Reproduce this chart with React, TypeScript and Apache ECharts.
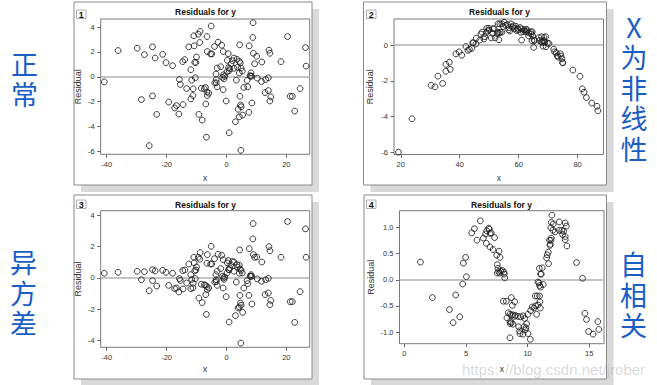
import React, { useEffect, useRef } from "react";
import * as echarts from "echarts";

// Panel 1 & 3 share the predictor x
const xA = [-40.8,-36.2,-29.8,-27.4,-24.7,-23.8,-21.3,-20.2,-18.0,-14.6,-13.9,-28.4,-24.7,-23.3,-25.8,-19.3,-17.3,-16.7,-15.9,-15.7,-15.4,-14.5,-13.3,-12.6,-11.9,-11.6,-11.1,-11.2,-11.9,-10.9,-10.6,-10.2,-10.0,-10.4,-10.8,-9.4,-8.8,-8.9,-8.4,-7.4,-7.0,-6.5,-6.4,-5.9,-6.9,-8.1,-9.2,-6.7,-6.5,-5.1,-6.4,-5.3,-4.9,-4.0,-2.8,-1.6,-3.1,-3.5,-3.4,-3.4,-3.1,-1.1,-1.0,-0.8,-0.6,-1.1,-0.1,0.6,0.3,0.9,1.1,0.2,1.5,2.0,2.5,3.5,3.3,2.5,4.4,4.3,4.6,4.9,5.3,4.5,4.7,4.9,4.3,5.4,3.0,0.9,4.8,3.9,5.8,6.9,7.1,7.6,7.5,7.9,8.2,8.4,8.1,8.8,9.0,9.4,10.1,8.9,8.5,10.3,11.8,11.7,13.1,14.0,12.9,14.0,14.2,14.5,14.8,14.5,18.2,20.4,21.3,22.0,22.8,24.6,26.4,26.6,-1.9,-1.3,0.7,3.7,4.3,-3.9];
// Panel 1: normal residuals
const resA = [-0.41,2.11,2.30,1.78,2.41,1.51,1.81,1.14,0.89,1.22,1.38,-1.84,-1.54,-3.03,-5.54,-2.03,-2.51,-2.32,-3.0,-0.22,-0.62,-2.24,-0.95,2.41,0.57,-0.27,-0.97,-1.51,-1.78,3.30,1.16,1.14,1.59,-0.08,2.49,3.43,3.65,2.76,-0.92,-0.97,-0.86,-1.22,-1.51,-1.32,-2.19,-3.49,-3.03,-4.86,3.24,4.08,2.03,1.84,1.84,2.43,2.78,2.54,0.70,0.22,-0.22,-0.49,-0.81,2.03,0.16,-0.16,0.05,-1.03,-1.95,1.86,1.32,0.49,0.65,0.41,1.03,1.30,1.51,1.41,-0.27,0.68,2.57,1.24,1.11,0.70,0.46,-1.57,-2.27,-2.41,-3.22,-3.08,-3.62,-4.51,-5.92,-2.62,-0.86,-0.30,-0.81,2.49,-2.86,0.08,0.32,0.05,0.05,3.16,1.89,1.05,1.65,4.35,-2.11,-0.11,1.19,-0.38,-0.22,-0.08,-1.27,-1.11,2.14,1.89,-1.62,-1.95,1.22,3.24,-1.57,-1.57,-2.76,-0.95,2.35,0.86,0.81,-0.05,0.73,0.76,0.30,-0.49];
// Panel 3: heteroscedastic residuals
const resC = [0.30,0.36,0.43,0.40,0.53,0.45,0.49,0.36,0.30,0.47,0.51,-0.11,-0.17,-0.51,-0.81,-0.47,-0.68,-0.64,-0.89,-0.04,-0.15,-0.70,-0.32,0.89,0.21,-0.09,-0.34,-0.62,-0.68,1.32,0.45,0.51,0.70,-0.04,0.96,1.32,1.62,1.19,-0.40,-0.43,-0.47,-0.55,-0.74,-0.64,-1.06,-1.57,-1.28,-2.32,0.94,2.02,1.49,0.89,0.89,1.23,1.51,1.45,0.43,0.21,-0.11,-0.23,-0.47,1.17,0,-0.09,0.06,-0.64,-1.19,1.11,0.96,0.53,0.64,0.32,0.85,1.06,1.02,0.85,-0.26,0.43,1.79,0.81,0.57,0.49,0.32,-1.11,-1.60,-1.74,-1.85,-2.19,-2.40,-2.81,-4.15,-1.91,-0.64,-0.17,-0.36,1.87,-1.11,0.11,0.21,0.11,0.11,2.49,1.49,1.32,1.34,3.47,-1.66,-0.06,1.02,-0.21,-0.11,-0.02,-1.06,-0.96,2.0,1.74,-1.43,-1.70,1.32,3.60,-1.51,-1.51,-2.83,-0.87,3.13,1.32,0.60,0.11,0.53,0.68,0.30,-0.26];
// Panel 2: nonlinear in x
const xB = [19.2,23.8,30.3,31.6,32.6,34.2,35.3,35.3,36.5,36.8,38.7,39.8,40.7,42.1,42.8,43.3,44.1,44.4,44.7,45.6,45.5,46.8,47.2,48.2,48.5,49.0,49.2,49.5,50.0,50.7,51.2,51.3,51.7,52.0,52.7,52.9,53.3,53.4,53.6,53.8,54.3,55.1,54.8,56.2,56.6,57.0,57.4,58.2,58.6,59.0,59.3,59.8,60.5,60.7,61.0,61.0,61.8,62.2,62.8,63.4,63.5,64.2,64.3,64.5,64.8,65.1,65.2,65.4,67.0,67.8,68.0,68.3,68.4,68.6,68.9,69.2,69.3,69.8,70.3,71.9,72.2,73.1,73.4,74.2,74.4,74.7,75.0,74.9,78.4,80.8,81.6,82.2,83.0,84.8,86.6,86.9,47.6,49.9,53.0,54.3,55.6,56.8,57.9,59.6,61.5,62.5,62.9,64.6,68.6,67.7,66.9,72.8];
const resB = [-6.0,-4.13,-2.26,-2.34,-1.74,-2.15,-1.47,-1.08,-0.96,-1.36,-0.49,-0.38,-0.57,-0.08,-0.30,-0.23,-0.19,0.13,0.13,0.38,0.06,0.28,0.62,0.34,0.47,0.70,0.94,0.79,0.85,0.40,0.66,0.92,0.91,0.40,0.64,0.72,0.30,0.68,1.19,0.72,0.72,1.28,1.04,1.15,0.85,0.79,1.19,1.08,0.92,1.06,0.81,0.85,0.98,0.72,0.28,0.91,0.85,0.77,0.74,0.51,0.68,0.74,0.62,0.25,0.51,-0.13,0.28,0.25,0.25,0.47,0.15,-0.06,0.21,0.25,0.17,0.47,-0.09,0.11,0.09,-0.23,-0.38,-0.60,-0.68,-0.49,-0.62,-0.77,-1.0,-0.98,-1.40,-1.75,-2.45,-2.64,-2.94,-3.25,-3.43,-3.68,0.72,0.94,1.19,1.19,1.11,0.98,1.0,0.94,0.75,0.89,0.85,0.75,0.43,0.19,0.42,-0.43];
// Panel 4: autocorrelated residuals
const xD = [1.30,2.27,3.65,3.95,4.49,4.16,4.78,4.97,5.03,4.73,5.46,5.68,5.89,6.16,6.41,6.59,6.68,6.84,6.89,6.95,7.05,6.65,6.95,7.19,7.32,7.49,7.68,7.76,7.54,7.59,7.65,7.73,7.81,7.95,8.08,8.11,8.14,7.54,8.03,8.27,8.68,8.76,8.95,8.43,8.32,8.57,8.68,8.81,8.95,9.0,9.22,9.43,9.62,9.76,8.57,8.59,8.68,8.81,8.57,9.27,9.35,9.38,9.70,9.86,9.81,10.03,9.92,9.62,10.22,10.03,10.24,10.38,10.51,10.65,10.73,10.84,11.03,11.0,10.62,10.78,10.97,10.84,10.92,10.97,11.05,11.27,10.95,11.19,11.05,11.11,11.70,11.54,11.59,11.68,11.84,11.78,11.89,11.92,11.81,11.97,11.92,12.08,11.89,12.05,12.24,12.57,12.57,12.84,13.05,13.14,12.92,13.05,13.05,13.19,12.78,13.97,14.46,14.65,14.78,14.95,15.32,15.70,15.78];
const resD = [0.34,-0.34,-0.57,-0.82,-0.71,-0.29,0.32,0.43,0.06,-0.08,0.90,0.98,0.76,1.13,0.80,0.88,0.94,0.99,0.97,0.89,0.90,0.70,0.63,0.58,0.81,0.47,0.55,0.43,0.29,0.22,0.16,0.13,0.17,0.18,0.15,0.11,0.04,0.13,-0.41,-0.41,-0.34,-0.49,-0.42,-0.63,-0.73,-0.66,-0.68,-0.67,-0.70,-0.68,-0.70,-0.71,-0.69,-0.74,-0.80,-0.84,-0.82,-0.85,-1.11,-0.90,-0.98,-1.03,-0.90,-0.92,-0.96,-1.03,-0.84,-1.04,-1.14,-0.66,-0.59,-0.52,-0.54,-0.50,-0.66,-0.48,-0.54,-0.42,-0.31,-0.31,-0.31,-0.04,-0.06,-0.11,-0.14,-0.09,0.22,0.23,0.11,0.11,0.31,0.42,0.48,0.53,0.68,0.76,0.76,0.80,0.66,1.24,1.10,1.07,1.0,0.95,0.92,1.11,0.95,0.87,1.09,1.03,0.93,0.83,0.77,0.65,0.95,0.33,0.03,-0.64,-0.76,-0.99,-1.04,-0.80,-0.95];

const ticksA = [-40, -20, 0, 20];
const ticksResA = [-6, -4, -2, 0, 2, 4];
const ticksB = [20, 40, 60, 80];
const ticksResB = [-6, -4, -2, 0];
const ticksResC = [-4, -2, 0, 2, 4];
const ticksD = [0, 5, 10, 15];
const ticksResD = [-1, -0.5, 0, 0.5, 1];

const panelTitle = "Residuals for y";
const sideLabels = ["正常", "X为非线性", "异方差", "自相关"];
const watermark = ["https:", "//blog.csdn.net/jrober"];

const zip = (xs: number[], ys: number[]) => {
  const n = Math.min(xs.length, ys.length);
  const out: number[][] = [];
  for (let i = 0; i < n; i++) out.push([xs[i], ys[i]]);
  return out;
};

const FONT = "'Liberation Sans', Arial, sans-serif";

export default function App() {
  const ref = useRef<HTMLDivElement>(null);
  useEffect(() => {
    document.body.style.margin = "0";
    const chart = echarts.init(ref.current!, null, { renderer: "svg" });

    const panels = [
      { grid: { left: 100.7, top: 19, width: 209, height: 135.3 }, xr: [-42, 27.8], xt: ticksA, yr: [-6.24, 4.65], yt: ticksResA, data: zip(xA, resA), fmt: null as any, xGap: 19, yGap: 18 },
      { grid: { left: 394, top: 19, width: 209.5, height: 135.5 }, xr: [17.7, 88.8], xt: ticksB, yr: [-6.13, 1.46], yt: ticksResB, data: zip(xB, resB), fmt: null, xGap: 19, yGap: 19.5 },
      { grid: { left: 100.7, top: 210.7, width: 209, height: 136.6 }, xr: [-42, 27.8], xt: ticksA, yr: [-4.42, 4.29], yt: ticksResC, data: zip(xA, resC), fmt: null, xGap: 17, yGap: 18 },
      { grid: { left: 399.5, top: 210.7, width: 204.5, height: 133 }, xr: [-0.4, 16.2], xt: ticksD, yr: [-1.224, 1.325], yt: ticksResD, data: zip(xD, resD), fmt: (v: number) => v.toFixed(1), xGap: 20.5, yGap: 24 },
    ];

    const labelStyle = { fontSize: 7.5, color: "#333", fontFamily: FONT };
    const grids = panels.map((p) => ({ ...p.grid, show: true, borderColor: "#7a7a7a", borderWidth: 1, backgroundColor: "transparent", z: 5 }));
    const xAxes = panels.map((p, i) => ({
      type: "value", gridIndex: i, min: p.xr[0], max: p.xr[1], z: 5, position: "bottom",
      name: "x", nameLocation: "middle", nameGap: p.xGap,
      nameTextStyle: { fontSize: 8.5, color: "#333", fontFamily: FONT },
      axisLine: { show: false, onZero: false }, splitLine: { show: false },
      axisTick: { show: true, customValues: p.xt, length: 3.5, lineStyle: { color: "#666", width: 1 } },
      axisLabel: { ...labelStyle, customValues: p.xt, margin: 6 },
    }));
    const yAxes = panels.map((p, i) => ({
      type: "value", gridIndex: i, min: p.yr[0], max: p.yr[1], z: 5, position: "left",
      name: "Residual", nameLocation: "middle", nameGap: p.yGap, nameRotate: 90,
      nameTextStyle: { fontSize: 9, color: "#333", fontFamily: FONT },
      axisLine: { show: false, onZero: false }, splitLine: { show: false },
      axisTick: { show: true, customValues: p.yt, length: 3.5, lineStyle: { color: "#666", width: 1 } },
      axisLabel: { ...labelStyle, customValues: p.yt, margin: 6, ...(p.fmt ? { formatter: p.fmt } : {}) },
    }));
    const series = panels.map((p, i) => ({
      type: "scatter", xAxisIndex: i, yAxisIndex: i, z: 6,
      data: p.data, symbol: "circle", symbolSize: 5.8,
      itemStyle: { color: "rgba(255,255,255,0)", borderColor: "#1a1a1a", borderWidth: 0.85, opacity: 1 },
      markLine: {
        silent: true, symbol: ["none", "none"], label: { show: false },
        lineStyle: { color: "#b0b0b0", width: 1.5, type: "solid" },
        data: [{ yAxis: 0 }], z: 5,
      },
    }));

    const boxes = [
      { x: 74, y: 2, w: 238, h: 183, num: "1", nx: 76.5, ny: 10, tx: 205.5, ty: 11.7 },
      { x: 363.5, y: 2, w: 243, h: 183, num: "2", nx: 366.5, ny: 10, tx: 499.5, ty: 11.7 },
      { x: 74, y: 195, w: 238, h: 184, num: "3", nx: 76.5, ny: 200, tx: 205.5, ty: 205 },
      { x: 364, y: 195, w: 242.5, h: 184, num: "4", nx: 366.5, ny: 200, tx: 501.5, ty: 205 },
    ];
    const graphic: any[] = [];
    boxes.forEach((b) => {
      graphic.push({ type: "rect", z: -20, shape: { x: b.x + 7, y: b.y + 7, width: b.w, height: b.h }, style: { fill: "#d9d9d9" }, silent: true });
      graphic.push({ type: "rect", z: -10, shape: { x: b.x, y: b.y, width: b.w, height: b.h }, style: { fill: "#ffffff", stroke: "#8a8a8a", lineWidth: 1 }, silent: true });
      graphic.push({ type: "rect", z: 10, shape: { x: b.nx, y: b.ny, width: 9.5, height: 8.5 }, style: { fill: "#fff", stroke: "#999", lineWidth: 0.8 }, silent: true });
      graphic.push({ type: "text", z: 11, x: b.nx + 4.75, y: b.ny + 4.5, style: { text: b.num, fontSize: 9, fontWeight: "bold", fontFamily: FONT, fill: "#111", align: "center", verticalAlign: "middle" } });
      graphic.push({ type: "text", z: 11, x: b.tx, y: b.ty, style: { text: panelTitle, fontSize: 8.5, fontWeight: "bold", fontFamily: FONT, fill: "#111", align: "center", verticalAlign: "middle" } });
    });
    const side = [
      { t: sideLabels[0], x: 24.5, y0: 63 },
      { t: sideLabels[1], x: 634, y0: 26 },
      { t: sideLabels[2], x: 23.5, y0: 261.5 },
      { t: sideLabels[3], x: 633.5, y0: 263.5 },
    ];
    side.forEach((s) => {
      s.t.split("").forEach((ch, k) => {
        graphic.push({ type: "text", z: 12, x: s.x, y: s.y0 + k * 30.6, style: { text: ch, fontSize: 27, fontFamily: "'Noto Sans CJK SC', sans-serif", fill: "#1a5dc5", align: "center", verticalAlign: "middle" } });
      });
    });
    graphic.push({ type: "text", z: 20, x: 462, y: 369, style: { text: watermark[0], fontSize: 15, fontFamily: FONT, fill: "rgba(170,170,170,0.45)", align: "left", verticalAlign: "middle" } });
    graphic.push({ type: "text", z: 20, x: 505, y: 369, style: { text: watermark[1], fontSize: 15, fontFamily: FONT, fill: "rgba(170,170,170,0.45)", align: "left", verticalAlign: "middle" } });

    chart.setOption({
      animation: false,
      backgroundColor: "#ffffff",
      grid: grids,
      xAxis: xAxes,
      yAxis: yAxes,
      series,
      graphic,
    } as any);
    return () => chart.dispose();
  }, []);
  return <div ref={ref} style={{ position: "absolute", left: 0, top: 0, width: 657, height: 385 }} />;
}
